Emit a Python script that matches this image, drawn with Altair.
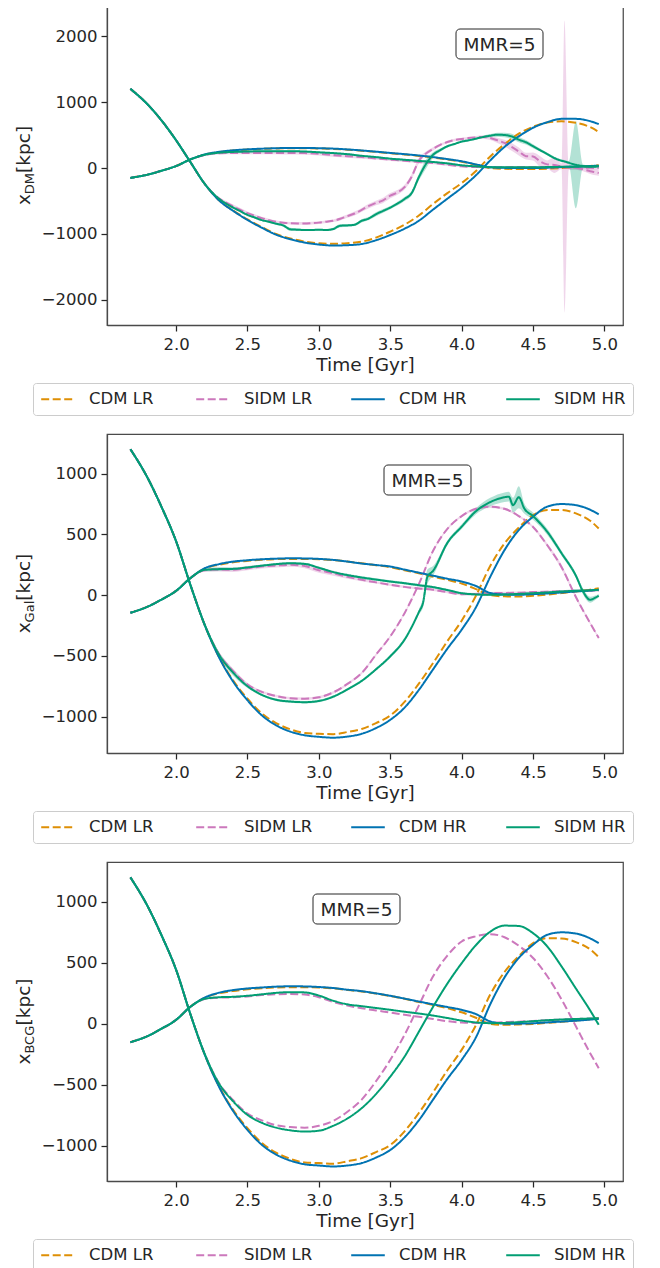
import altair as alt
import pandas as pd

# ---------------- data ----------------
SERIES = ["CDM LR", "SIDM LR", "CDM HR", "SIDM HR"]
COLORS = ["#de8f05", "#cc78bc", "#0173b2", "#029e73"]
DASHES = [[8, 3.5], [8, 3.5], [1, 0], [1, 0]]

T = [1.68, 1.8, 1.9, 2.0, 2.1, 2.2, 2.3, 2.4, 2.5, 2.6, 2.7, 2.8, 2.9, 3.0, 3.1, 3.2, 3.3,
     3.4, 3.5, 3.6, 3.7, 3.8, 3.9, 4.0, 4.1, 4.2, 4.3, 4.4, 4.5, 4.6, 4.7, 4.8, 4.9, 4.96]

# finer time grid for the noisy SIDM main-halo curves of the DM panel
T1F = [1.68, 1.8, 1.9, 2.0, 2.1, 2.2, 2.3,
       2.35, 2.4, 2.45, 2.5, 2.55, 2.6, 2.65, 2.7, 2.75, 2.8, 2.85, 2.9, 2.95, 3.0, 3.05, 3.1,
       3.15, 3.2, 3.25, 3.3, 3.35, 3.4, 3.45, 3.5, 3.55, 3.6, 3.65, 3.7, 3.75, 3.8, 3.85, 3.9,
       3.95, 4.0, 4.05, 4.1, 4.15, 4.2, 4.25, 4.3, 4.35, 4.4, 4.45, 4.5, 4.55, 4.6, 4.65, 4.7,
       4.72, 4.75, 4.8, 4.85, 4.9, 4.95, 4.96]

# grid for the SIDM HR main halo of the galaxy panel (has kinks)
T2G = [1.68, 1.8, 1.9, 2.0, 2.1, 2.2, 2.3, 2.4, 2.5, 2.6, 2.7, 2.8, 2.9, 3.0, 3.1, 3.2, 3.3,
       3.4, 3.5, 3.6, 3.7, 3.73, 3.76, 3.8, 3.9, 4.0, 4.1, 4.2, 4.3, 4.33, 4.36, 4.4, 4.44,
       4.5, 4.6, 4.7, 4.8, 4.85, 4.9, 4.93, 4.96]

# ---- panel 1: x_DM ----
p1_cdm_lr_main = [1200, 965, 715, 420, 90, -240, -488, -645, -780, -895, -1000, -1068, -1115, -1140,
                  -1150, -1140, -1117, -1055, -964, -860, -720, -545, -380, -228, -45, 175, 360, 520,
                  625, 690, 708, 685, 620, 548]
p1_cdm_hr_main = [1200, 965, 715, 420, 90, -240, -490, -650, -787, -905, -1010, -1080, -1130, -1160,
                  -1175, -1170, -1152, -1095, -1015, -920, -800, -630, -465, -300, -110, 115, 320, 480,
                  610, 695, 745, 745, 710, 665]
p1_sidm_lr_main = [1200, 965, 715, 420, 90, -238, -460,
                   -525, -582, -635, -685, -725, -760, -790, -815, -830, -838, -840, -840, -835, -828,
                   -815, -800, -770, -730, -690, -635, -575, -530, -490, -420, -370, -290, -130, 110,
                   220, 290, 350, 395, 425, 440, 455, 465, 470, 455, 420, 380, 320, 250, 180, 175, 100,
                   55, 45, 25,
                   20, 10, 0, -20, -50, -70, -75]
p1_sidm_lr_main_hw = [5, 5, 5, 5, 8, 12, 20,
                      25, 30, 30, 25, 25, 20, 20, 20,
                      20, 20, 20, 20, 20, 20, 20, 20, 25, 25,
                      30, 30, 35, 35, 40, 40, 35, 35, 40, 40,
                      30, 25, 20, 20, 20, 20, 20, 20, 25, 30,
                      40, 50, 60, 60, 50, 60, 80, 60, 120, 40,
                      2215, 40, 30, 30, 40, 45, 45]
p1_sidm_hr_main = [1200, 965, 715, 420, 90, -238, -466,
                   -540, -600, -655, -711, -750, -790, -815, -845, -870, -930, -935, -940, -940, -935,
                   -940, -925, -875, -870, -860, -800, -765, -700, -650, -600, -540, -470, -380, -140,
                   60, 200, 270, 330, 365, 400, 420, 445, 470, 490, 505, 500, 480, 430, 390, 330, 270,
                   210, 150, 110,
                   100, 80, 50, 30, 20, 25, 25]
p1_sidm_hr_main_hw = [5, 5, 5, 5, 5, 8, 15,
                      20, 20, 15, 15, 15, 15, 15, 15,
                      20, 25, 20, 15, 15, 15, 15, 20, 25, 20,
                      20, 25, 25, 30, 30, 25, 30, 30, 35, 50,
                      70, 40, 25, 20, 15, 15, 15, 15, 20, 25,
                      30, 35, 40, 40, 35, 30, 25, 20, 20, 20,
                      20, 25, 660, 25, 20, 20, 20]
p1_cdm_lr_sec = [-150, -100, -40, 30, 130, 203, 242, 265, 280, 290, 296, 300, 300, 297, 290, 278, 262,
                 244, 224, 205, 183, 158, 128, 95, 48, 0, -12, -15, -15, -10, 0, 15, 30, 40]
p1_cdm_hr_sec = [-150, -100, -40, 30, 130, 205, 245, 268, 283, 293, 300, 304, 305, 300, 294, 282, 266,
                 248, 228, 210, 190, 165, 135, 102, 55, 12, 2, 0, 0, 5, 15, 22, 30, 36]
p1_sidm_lr_sec = [-150, -100, -40, 30, 130, 198, 225, 228, 228, 228, 228, 228, 226, 215, 195, 180, 165,
                  145, 127, 110, 92, 76, 50, 25, 15, 10, 12, 15, 15, 12, 8, 5, 2, 0]
p1_sidm_lr_sec_hw = [5, 5, 5, 5, 8, 15, 20, 20, 20, 20, 20, 25, 25, 25, 25, 25, 25,
                     20, 20, 20, 20, 20, 20, 15, 15, 15, 15, 15, 15, 15, 15, 20, 25, 30]
p1_sidm_hr_sec = [-150, -100, -40, 30, 130, 200, 232, 244, 250, 254, 254, 254, 250, 238, 226, 210, 185,
                  165, 142, 125, 108, 91, 70, 41, 25, 12, 10, 10, 10, 14, 18, 20, 24, 25]
p1_sidm_hr_sec_hw = [5, 5, 5, 5, 8, 12, 15, 15, 12, 12, 12, 12, 12, 12, 12, 12, 12,
                     12, 12, 12, 12, 12, 12, 12, 10, 10, 10, 10, 10, 10, 10, 10, 10, 10]

# ---- panel 2: x_Gal ----
p2_cdm_lr_main = [1200, 965, 720, 443, 85, -245, -507, -703, -852, -972, -1052, -1103, -1133, -1140,
                  -1143, -1125, -1100, -1052, -990, -878, -728, -558, -378, -210, -5, 240, 425, 555,
                  658, 700, 700, 672, 612, 548]
p2_cdm_hr_main = [1200, 965, 720, 443, 85, -245, -510, -712, -865, -988, -1070, -1122, -1152, -1165,
                  -1172, -1163, -1140, -1093, -1025, -925, -780, -610, -440, -284, -100, 150, 370, 535,
                  645, 728, 749, 740, 702, 664]
p2_sidm_lr_main = [1200, 965, 720, 443, 85, -242, -485, -625, -735, -795, -830, -848, -852, -840, -800,
                   -730, -640, -490, -339, -148, 90, 365, 545, 650, 710, 727, 710, 650, 560, 410, 230,
                   -15, -230, -352]
p2_sidm_lr_main_hw = [5, 5, 5, 5, 5, 10, 20, 20, 15, 10, 10, 10, 10, 10, 10, 10, 10,
                      10, 10, 10, 10, 10, 10, 10, 10, 10, 10, 10, 10, 15, 20, 15, 10, 10]
p2_sidm_hr_main = [1200, 965, 720, 443, 85, -242, -488, -638, -749, -820, -860, -875, -880, -870, -835,
                   -775, -705, -610, -503, -366, -140, -60, 150, 200, 430, 563, 690, 765, 805, 810, 740,
                   805, 710, 650, 520, 344, 160, 30, -38, -25, -5]
p2_sidm_hr_main_hw = [5, 5, 5, 5, 5, 10, 20, 25, 15, 10, 10, 10, 10, 10, 10, 10, 10, 10, 12, 15,
                      20, 40, 60, 40, 20, 20, 25, 35, 40, 40, 60, 90, 40, 30, 25, 20, 20, 25, 25, 20, 15]
p2_cdm_lr_sec = [-145, -95, -35, 35, 140, 218, 250, 270, 282, 290, 296, 298, 298, 295, 288, 276, 262,
                 246, 230, 205, 180, 152, 125, 95, 50, 0, -10, -11, -5, 5, 17, 30, 45, 57]
p2_cdm_hr_sec = [-145, -95, -35, 35, 140, 221, 255, 276, 287, 295, 300, 303, 302, 298, 290, 276, 260,
                 248, 235, 210, 185, 160, 135, 112, 75, 18, 5, 3, 8, 14, 22, 30, 38, 44]
p2_sidm_lr_sec = [-145, -95, -35, 35, 140, 205, 210, 208, 222, 235, 243, 249, 240, 205, 180, 150, 126,
                  105, 85, 68, 55, 44, 25, 8, 10, 16, 18, 20, 25, 28, 32, 35, 37, 38]
p2_sidm_lr_sec_hw = [5, 5, 5, 5, 8, 12, 15, 18, 18, 15, 15, 15, 18, 20, 20, 15, 12,
                     10, 10, 10, 10, 10, 10, 10, 10, 10, 10, 10, 10, 10, 10, 10, 10, 10]
p2_sidm_hr_sec = [-145, -95, -35, 35, 140, 208, 214, 216, 228, 242, 255, 262, 257, 225, 190, 165, 145,
                  128, 112, 98, 82, 66, 42, 16, 6, 3, 5, 10, 16, 22, 30, 36, 40, 44]
p2_sidm_hr_sec_hw = [5, 5, 5, 5, 8, 12, 15, 12, 10, 10, 10, 10, 10, 10, 10, 10, 10,
                     10, 10, 10, 10, 10, 10, 10, 10, 10, 10, 10, 10, 10, 10, 10, 10, 10]

# ---- panel 3: x_BCG ----
p3_cdm_lr_main = [1200, 965, 720, 443, 80, -250, -510, -705, -855, -975, -1055, -1105, -1135, -1140,
                  -1145, -1125, -1100, -1050, -992, -880, -730, -560, -380, -213, -10, 240, 425, 555,
                  661, 702, 700, 670, 610, 546]
p3_cdm_hr_main = [1200, 965, 720, 443, 80, -250, -514, -715, -869, -990, -1070, -1120, -1150, -1160,
                  -1168, -1160, -1140, -1095, -1033, -930, -790, -620, -450, -295, -110, 160, 380, 540,
                  648, 730, 750, 740, 700, 661]
p3_sidm_lr_main = [1200, 965, 720, 443, 80, -246, -485, -625, -735, -790, -830, -845, -850, -835, -795,
                   -720, -620, -470, -295, -90, 150, 390, 560, 675, 718, 735, 710, 640, 540, 390, 200,
                   -20, -240, -363]
p3_sidm_hr_main = [1200, 965, 720, 443, 80, -246, -488, -635, -746, -810, -850, -872, -882, -875, -835,
                   -775, -690, -575, -432, -268, -65, 140, 330, 497, 645, 755, 805, 802, 743, 634, 470,
                   290, 110, -8]
p3_cdm_lr_sec = [-150, -100, -38, 33, 140, 213, 250, 270, 283, 292, 298, 300, 300, 297, 290, 278, 265,
                 248, 228, 205, 180, 155, 128, 95, 50, 0, -8, -5, 0, 8, 17, 27, 38, 46]
p3_cdm_hr_sec = [-150, -100, -38, 33, 140, 215, 255, 277, 290, 298, 305, 308, 307, 302, 294, 280, 268,
                 250, 230, 207, 183, 160, 138, 115, 80, 20, 2, 2, 5, 12, 19, 26, 35, 41]
p3_sidm_lr_sec = [-150, -100, -38, 33, 140, 203, 215, 218, 225, 236, 243, 245, 240, 218, 180, 150, 128,
                  110, 93, 75, 58, 40, 22, 11, 8, 10, 14, 18, 24, 30, 35, 40, 44, 46]
p3_sidm_hr_sec = [-150, -100, -38, 33, 140, 205, 218, 222, 230, 242, 254, 260, 258, 232, 190, 160, 145,
                  130, 115, 100, 85, 68, 48, 27, 12, 6, 8, 14, 22, 30, 36, 40, 44, 46]

X_TICKS = [2.0, 2.5, 3.0, 3.5, 4.0, 4.5, 5.0]

# ---------------- styling ----------------
FONT = "DejaVu Sans"
INK = "#262626"
FRAME = "#4a4a4a"
W, H = 516, 319
TICK_FS = 16.5
LABEL_FS = 18.5
SUB_FS = 13

cscale = alt.Scale(domain=SERIES, range=COLORS)
dscale = alt.Scale(domain=SERIES, range=DASHES)

# wide horizontal stroke as legend symbol, with a small nominal size so rows stay short
SYMBOL_PATH = "M-2.1,0H2.1"


def legend():
    return alt.Legend(
        title=None, orient="none", legendX=-74, legendY=H + 58, direction="horizontal",
        columns=4, symbolType=SYMBOL_PATH, symbolSize=256, symbolStrokeWidth=2,
        labelFontSize=TICK_FS, labelColor=INK, labelFont=FONT, labelOffset=22,
        columnPadding=31, gridAlign="all", padding=7, fillColor="white",
        strokeColor="#cccccc", cornerRadius=3, symbolOffset=9,
    )


def x_enc():
    return alt.X("t:Q", scale=alt.Scale(domain=[1.516, 5.13], nice=False, zero=False),
                 axis=alt.Axis(values=X_TICKS, format=".1f", title="Time [Gyr]",
                               titleFontSize=LABEL_FS, titlePadding=3, labelPadding=5))


def y_enc(field, ydom, yticks):
    return alt.Y(field, scale=alt.Scale(domain=ydom, nice=False, zero=False),
                 axis=alt.Axis(values=yticks, format="d", title=None, labelPadding=4))


def panel(sub, ydom, yticks, lines, bands, box):
    layers = []
    for color, t, v, hw in bands:
        df = pd.DataFrame({"t": t, "lo": [a - b for a, b in zip(v, hw)],
                           "hi": [a + b for a, b in zip(v, hw)]})
        layers.append(
            alt.Chart(df).mark_area(color=color, opacity=0.3, interpolate="monotone")
            .encode(x=x_enc(), y=y_enc("lo:Q", ydom, yticks), y2="hi:Q")
        )
    for s in SERIES:
        rows = []
        for (ser, halo, t, v) in lines:
            if ser == s:
                rows += [{"t": a, "v": b, "series": ser, "halo": halo} for a, b in zip(t, v)]
        df = pd.DataFrame(rows)
        layers.append(
            alt.Chart(df).mark_line(strokeWidth=2, interpolate="monotone")
            .encode(
                x=x_enc(), y=y_enc("v:Q", ydom, yticks),
                color=alt.Color("series:N", scale=cscale, legend=legend()),
                strokeDash=alt.StrokeDash("series:N", scale=dscale, legend=legend()),
                detail="halo:N",
            )
        )
    # y-axis title  x_{sub}[kpc]  built from three rotated text pieces
    main_len = 0.592 * LABEL_FS
    sub_len = {"DM": 1.633, "Gal": 1.666, "BCG": 2.159}[sub] * SUB_FS
    tail_len = 2.544 * LABEL_FS
    total = main_len + sub_len + tail_len
    y0 = H / 2 + total / 2
    pieces = [("x", LABEL_FS, -77, y0), (sub, SUB_FS, -73, y0 - main_len),
              ("[kpc]", LABEL_FS, -77, y0 - main_len - sub_len)]
    for text, fs, xx, yy in pieces:
        layers.append(
            alt.Chart(pd.DataFrame({"s": [text]}))
            .mark_text(fontSize=fs, angle=270, align="left", baseline="alphabetic",
                       font=FONT, color=INK)
            .encode(x=alt.value(xx), y=alt.value(yy), text="s:N")
        )
    bx0, by0 = box
    layers.append(
        alt.Chart(pd.DataFrame({"s": ["MMR=5"]}))
        .mark_rect(fill="white", stroke=INK, strokeWidth=1, cornerRadius=4)
        .encode(x=alt.value(bx0), x2=alt.value(bx0 + 87), y=alt.value(by0), y2=alt.value(by0 + 30))
    )
    layers.append(
        alt.Chart(pd.DataFrame({"s": ["MMR=5"]}))
        .mark_text(fontSize=LABEL_FS, font=FONT, color=INK, align="center", baseline="middle")
        .encode(x=alt.value(bx0 + 43.5), y=alt.value(by0 + 15.5), text="s:N")
    )
    return alt.layer(*layers).properties(width=W, height=H)


p1 = panel(
    "DM", [-2380, 2456], [-2000, -1000, 0, 1000, 2000],
    [("CDM LR", "main", T, p1_cdm_lr_main), ("CDM LR", "sec", T, p1_cdm_lr_sec),
     ("SIDM LR", "main", T1F, p1_sidm_lr_main), ("SIDM LR", "sec", T, p1_sidm_lr_sec),
     ("CDM HR", "main", T, p1_cdm_hr_main), ("CDM HR", "sec", T, p1_cdm_hr_sec),
     ("SIDM HR", "main", T1F, p1_sidm_hr_main), ("SIDM HR", "sec", T, p1_sidm_hr_sec)],
    [(COLORS[1], T1F, p1_sidm_lr_main, p1_sidm_lr_main_hw),
     (COLORS[1], T, p1_sidm_lr_sec, p1_sidm_lr_sec_hw),
     (COLORS[3], T1F, p1_sidm_hr_main, p1_sidm_hr_main_hw),
     (COLORS[3], T, p1_sidm_hr_sec, p1_sidm_hr_sec_hw)],
    (349, 23),
)
p2 = panel(
    "Gal", [-1298, 1325], [-1000, -500, 0, 500, 1000],
    [("CDM LR", "main", T, p2_cdm_lr_main), ("CDM LR", "sec", T, p2_cdm_lr_sec),
     ("SIDM LR", "main", T, p2_sidm_lr_main), ("SIDM LR", "sec", T, p2_sidm_lr_sec),
     ("CDM HR", "main", T, p2_cdm_hr_main), ("CDM HR", "sec", T, p2_cdm_hr_sec),
     ("SIDM HR", "main", T2G, p2_sidm_hr_main), ("SIDM HR", "sec", T, p2_sidm_hr_sec)],
    [(COLORS[1], T, p2_sidm_lr_main, p2_sidm_lr_main_hw),
     (COLORS[1], T, p2_sidm_lr_sec, p2_sidm_lr_sec_hw),
     (COLORS[3], T2G, p2_sidm_hr_main, p2_sidm_hr_main_hw),
     (COLORS[3], T, p2_sidm_hr_sec, p2_sidm_hr_sec_hw)],
    (277, 31),
)
p3 = panel(
    "BCG", [-1287, 1326], [-1000, -500, 0, 500, 1000],
    [("CDM LR", "main", T, p3_cdm_lr_main), ("CDM LR", "sec", T, p3_cdm_lr_sec),
     ("SIDM LR", "main", T, p3_sidm_lr_main), ("SIDM LR", "sec", T, p3_sidm_lr_sec),
     ("CDM HR", "main", T, p3_cdm_hr_main), ("CDM HR", "sec", T, p3_cdm_hr_sec),
     ("SIDM HR", "main", T, p3_sidm_hr_main), ("SIDM HR", "sec", T, p3_sidm_hr_sec)],
    [],
    (206, 32),
)

chart = (
    alt.vconcat(p1, p2, p3, spacing=16)
    .resolve_scale(color="independent", strokeDash="independent", x="independent", y="independent")
    .resolve_legend(color="independent", strokeDash="independent")
    .properties(padding={"left": 6, "top": -3, "right": 5, "bottom": 0}, background="white")
    .configure_view(stroke=FRAME, strokeWidth=1.25)
    .configure_axis(
        domainColor=FRAME, domainWidth=1.25, tickColor=INK, tickWidth=1.25, tickSize=6,
        labelFont=FONT, labelFontSize=TICK_FS, labelColor=INK, titleFont=FONT,
        titleColor=INK, titleFontWeight="normal", grid=False,
    )
)

chart.save("out.html", embed_options={"renderer": "svg", "actions": False})
